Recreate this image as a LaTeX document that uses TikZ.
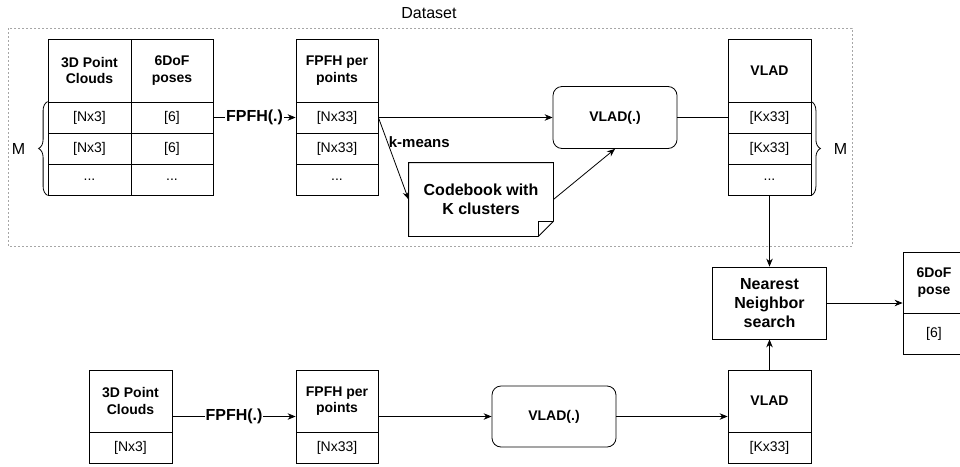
\documentclass[tikz,border=0pt]{standalone}
\usepackage{fontspec}
\setmainfont{Liberation Sans}
\usetikzlibrary{arrows.meta,decorations.pathreplacing}

\tikzset{
  cell/.style={draw, inner sep=0pt, align=center, font=\fontsize{14}{16.5}\selectfont},
  head/.style={cell, font=\bfseries\fontsize{14}{16.5}\selectfont},
  proc/.style={draw, rounded corners=9pt, inner sep=0pt, align=center, font=\bfseries\fontsize{14}{17}\selectfont},
  lbl/.style={inner sep=1pt, font=\bfseries\fontsize{16}{19}\selectfont},
  arr/.style={-{Stealth[length=8pt,width=6.5pt]}},
  frame/.style={gray!70, line width=0.6pt, dash pattern=on 2pt off 2pt},
}
\newcommand{\etcdots}{...}

\begin{document}
\begin{tikzpicture}[x=1pt, y=-1pt, line width=0.8pt]
      \useasboundingbox (0,0) rectangle (960,466);

      % dataset frame
      \draw[frame] (8,28) rectangle (852,246);
      \node[font=\fontsize{16}{19}\selectfont] (dataset) at (429,13) {Dataset};

      % tables of the dataset
      \node[head, minimum width=83pt, minimum height=63pt] (pcH) at (89.5,70.5) {3D Point\\Clouds};
      \node[head, minimum width=82pt, minimum height=63pt] (poseH) at (172,70.5) {6DoF\\poses};
      \node[head, minimum width=82pt, minimum height=63pt] (fH) at (337,70.5) {FPFH per\\points};
      \node[head, minimum width=83pt, minimum height=63pt] (vH) at (769.5,70.5) {VLAD};
      \foreach \i/\y/\a/\b/\c/\d in {1/117.5/{[Nx3]}/{[6]}/{[Nx33]}/{[Kx33]},
                                    2/148.5/{[Nx3]}/{[6]}/{[Nx33]}/{[Kx33]},
                                    3/179.5/\etcdots/\etcdots/\etcdots/\etcdots} {
        \node[cell, minimum width=83pt, minimum height=31pt] (pc\i) at (89.5,\y) {\a};
        \node[cell, minimum width=82pt, minimum height=31pt] (pose\i) at (172,\y) {\b};
        \node[cell, minimum width=82pt, minimum height=31pt] (f\i) at (337,\y) {\c};
        \node[cell, minimum width=83pt, minimum height=31pt] (v\i) at (769.5,\y) {\d};
      }

      % braces
      \draw[decorate, decoration={brace, amplitude=9pt}] (pc3.south west) -- (pc1.north west)
        node[midway, left=21pt, inner sep=1pt, font=\fontsize{16}{19}\selectfont] (mL) {M};
      \draw[decorate, decoration={brace, amplitude=9pt}] (v1.north east) -- (v3.south east)
        node[midway, right=21pt, inner sep=1pt, font=\fontsize{16}{19}\selectfont] (mR) {M};

      % processing boxes
      \node[proc, minimum width=124pt, minimum height=62pt] (vladA) at (615,117.5) {VLAD(.)};
      \node[minimum width=144pt, minimum height=73pt, inner sep=0pt, align=center,
            font=\bfseries\fontsize{16}{19}\selectfont] (code) at (481,199.5) {Codebook with\\K clusters};
      \draw (code.north west) -- (code.north east) -- ([yshift=15pt]code.south east)
        -- ([xshift=-15pt]code.south east) -- (code.south west) -- cycle;
      \draw ([yshift=15pt]code.south east) -- ([xshift=-15pt, yshift=15pt]code.south east)
        -- ([xshift=-15pt]code.south east);
      \node[proc, rounded corners=0pt, minimum width=114pt, minimum height=72pt,
            font=\bfseries\fontsize{16}{19}\selectfont] (nn) at (769.5,303) {Nearest\\Neighbor\\search};

      % query row
      \node[head, minimum width=83pt, minimum height=62pt] (pcBH) at (130.5,401) {3D Point\\Clouds};
      \node[cell, minimum width=83pt, minimum height=31pt] (pcB1) at (130.5,447.5) {[Nx3]};
      \node[head, minimum width=82pt, minimum height=62pt] (fBH) at (337,401) {FPFH per\\points};
      \node[cell, minimum width=82pt, minimum height=31pt] (fB1) at (337,447.5) {[Nx33]};
      \node[proc, minimum width=124pt, minimum height=61pt] (vladB) at (554,416.5) {VLAD(.)};
      \node[head, minimum width=83pt, minimum height=62pt] (vBH) at (769.5,401) {VLAD};
      \node[cell, minimum width=83pt, minimum height=31pt] (vB1) at (769.5,447.5) {[Kx33]};

      % result
      \node[head, minimum width=62pt, minimum height=61pt] (resH) at (934,282.5) {6DoF\\pose};
      \node[cell, minimum width=62pt, minimum height=41pt] (res1) at (934,333.5) {[6]};

      % connectors
      \draw[arr] (pose1.east) -- node[lbl, fill=white] (lblA) {FPFH(.)} (f1.west);
      \draw[arr] (f1.east) -- (vladA.west);
      \draw (vladA.east) -- (v1.west);
      \draw[arr] (f1.east) -- node[pos=0.3, right, inner sep=1pt,
        font=\bfseries\fontsize{15}{18}\selectfont] (lblK) {k-means} (code.west);
      \draw[arr] (code.east) -- (vladA.south);
      \draw[arr] (v3.south) -- (nn.north);
      \draw[arr] (nn.east) -- (resH.west |- nn.east);

      \draw[arr] (pcBH.east |- vladB.west) -- node[lbl, fill=white] (lblB) {FPFH(.)} (fBH.west |- vladB.west);
      \draw[arr] (fBH.east |- vladB.west) -- (vladB.west);
      \draw[arr] (vladB.east) -- (vBH.west |- vladB.east);
      \draw[arr] (vBH.north) -- (nn.south);

    \end{tikzpicture}
\end{document}
